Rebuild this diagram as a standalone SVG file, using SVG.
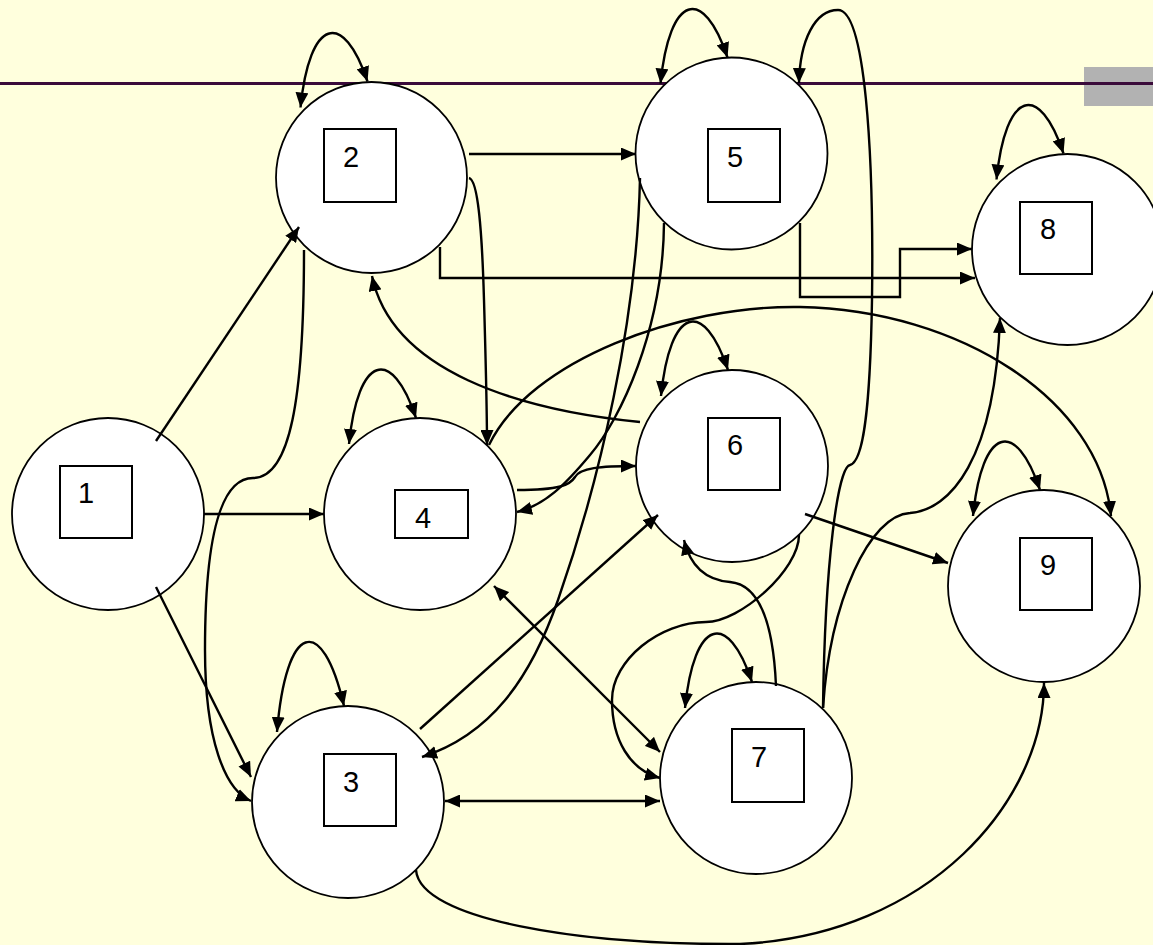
<svg xmlns="http://www.w3.org/2000/svg" width="1153" height="945" viewBox="0 0 1153 945">
<style>
.node circle{fill:#fff;stroke:#000;stroke-width:1.8}
.node rect{fill:#fff;stroke:#000;stroke-width:2}
.node text{font-family:"Liberation Sans",Arial,sans-serif;font-size:29px;fill:#000}
.c{fill:none;stroke:#000;stroke-width:2.4}
.e{marker-end:url(#ah)}
.b{marker-start:url(#ah);marker-end:url(#ah)}
</style>
<defs>
<marker id="ah" viewBox="0 0 15 13" refX="15" refY="6.5" markerWidth="15" markerHeight="13" markerUnits="userSpaceOnUse" orient="auto-start-reverse"><path d="M0,0 L15,6.5 L0,13 z" fill="#000"/></marker>
</defs>
<rect x="0" y="0" width="1153" height="945" fill="#FFFFDD"/>
<rect x="1084" y="67" width="69" height="39" fill="#B2B2B2"/>
<rect x="0" y="82" width="1153" height="3" fill="#3A0A3A"/>
<g id="n1" class="node"><circle cx="108" cy="514" r="96"/><rect x="60" y="466" width="72" height="72"/><text x="78" y="503">1</text></g>
<g id="n2" class="node"><circle cx="371.5" cy="177.5" r="95.5"/><rect x="324" y="129" width="72" height="73"/><text x="343" y="167">2</text></g>
<g id="n3" class="node"><circle cx="348" cy="802" r="96"/><rect x="324" y="754" width="72" height="72"/><text x="343" y="792">3</text></g>
<g id="n4" class="node"><circle cx="420" cy="514" r="96"/><rect x="395" y="490" width="73" height="48"/><text x="415" y="528">4</text></g>
<g id="n5" class="node"><circle cx="731.5" cy="153.5" r="96"/><rect x="708" y="129" width="72" height="73"/><text x="727" y="167">5</text></g>
<g id="n6" class="node"><circle cx="732" cy="466" r="96"/><rect x="708" y="418" width="72" height="72"/><text x="727" y="455">6</text></g>
<g id="n7" class="node"><circle cx="756" cy="778" r="96"/><rect x="732" y="729" width="72" height="73"/><text x="751" y="767">7</text></g>
<g id="n8" class="node"><circle cx="1067.5" cy="249.5" r="95.5"/><rect x="1020" y="202" width="72" height="72"/><text x="1040" y="239">8</text></g>
<g id="n9" class="node"><circle cx="1044" cy="586" r="96"/><rect x="1020" y="538" width="72" height="72"/><text x="1040" y="575">9</text></g>
<g id="connectors">
<path class="c b" d="M300.5,107.5 C309.5,17.5 343.5,9.5 367.5,81.5"/>
<path class="c b" d="M660.5,83.5 C669.5,-6.5 703.5,-14.5 727.5,57.5"/>
<path class="c b" d="M996.5,179.5 C1005.5,89.5 1039.5,81.5 1063.5,153.5"/>
<path class="c b" d="M349,444 C358,354 392,346 416,418"/>
<path class="c b" d="M661,396 C670,306 704,298 728,370"/>
<path class="c b" d="M973,516 C982,426 1016,418 1040,490"/>
<path class="c b" d="M685,708 C694,618 728,610 752,682"/>
<path class="c b" d="M277,732 C286,622 322,612 344,706"/>
<path class="c e" d="M156,441 L299,227"/>
<path class="c e" d="M204,514 L324,514"/>
<path class="c e" d="M156,587 L251,777"/>
<path class="c e" d="M304,250 C304,400 290,478 253,478 C215,478 205,560 205,650 C205,740 225,790 251,801"/>
<path class="c e" d="M469,178 C478,180 482,230 484,300 C486,370 487,410 487,445"/>
<path class="c e" d="M469,154 L636,154"/>
<path class="c e" d="M440,247 L440,278 L975,278"/>
<path class="c e" d="M800,223 L800,297 L900,297 L900,249 L972,249"/>
<path class="c e" d="M640,178 C637,320 600,480 558,600 C530,680 490,735 422,757"/>
<path class="c e" d="M664,223 C663,330 620,420 590,455 C565,485 545,505 517,512"/>
<path class="c e" d="M640,422 C520,410 392,372 372,276"/>
<path class="c e" d="M517,490 C560,490 570,485 575,477 C580,468 600,466 636,466"/>
<path class="c e" d="M489,445 C530,360 680,305 800,307 C960,310 1100,400 1111,516"/>
<path class="c e" d="M805,514 L948,563"/>
<path class="c e" d="M799,535 C799,570 740,622 706,622 C660,622 612,660 612,700 C612,740 630,770 660,778"/>
<path class="c e" d="M776,686 C774,640 765,585 730,582 C705,580 690,565 684,540"/>
<path class="c b" d="M445,801 L660,801"/>
<path class="c b" d="M494,586 L660,752"/>
<path class="c e" d="M420,729 L658,515"/>
<path class="c e" d="M416,870 C420,920 580,945 740,944 C930,935 1044,800 1044,683"/>
<path class="c e" d="M823,708 C825,560 838,467 850,465 C862,462 870,420 872,300 C874,150 865,10 838,10 C815,10 800,40 799,83"/>
<path class="c e" d="M823,708 C830,600 870,515 910,513 C950,510 995,460 1000,318"/>
</g>
</svg>
